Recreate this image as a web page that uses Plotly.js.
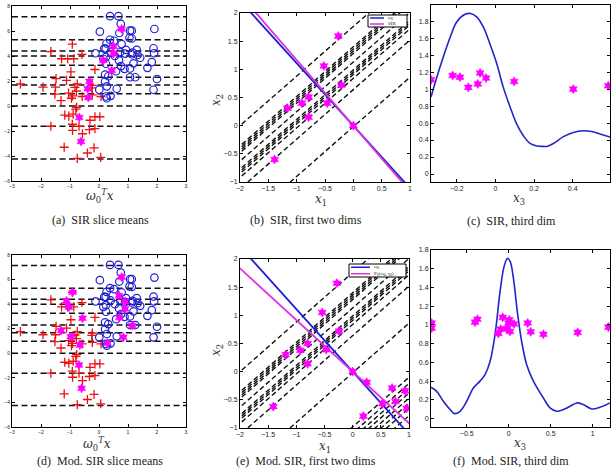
<!DOCTYPE html>
<html><head><meta charset="utf-8">
<script src="https://cdn.plot.ly/plotly-3.0.1.min.js"></script>
<style>body{margin:0;background:#fff}#p{width:613px;height:475px}</style>
</head><body><div id="p"></div>
<script>
// ---------- data ----------
const sliceBounds = [7.15, 5.3, 4.4, 4.0, 3.25, 2.3, 1.68, 0.98, 0.0, -1.62, -4.25];
const crossX = [-0.92,-1.66,-1.29,-1.08,-0.87,-0.59,-0.14,-0.97,-1.48,-1.12,-0.75,-2.71,-1.93,-1.50,-0.83,-0.23,-1.05,-0.91,-1.52,-0.58,-0.23,0.07,-1.31,-0.95,-0.77,-1.18,-1.04,-0.89,-0.14,0.03,-0.31,-0.92,-0.69,-1.66,-0.91,-0.33,-0.14,-0.57,-1.20,-0.17,-0.40,-0.75,0.06,-0.78,-0.80,-0.25];
const crossY = [4.95,4.35,3.78,3.78,3.78,4.13,2.92,2.73,2.19,2.05,1.76,1.76,1.51,1.51,1.49,1.65,1.03,0.81,0.95,0.76,0.89,0.76,0.43,0.62,-0.11,-0.73,-0.81,-0.65,-0.86,-0.86,-1.14,-1.46,-1.62,-1.62,-1.95,-1.89,-1.81,-2.22,-3.30,-3.35,-3.76,-4.19,-4.11,1.2,-0.25,1.45];
const circX = [0.38,0.67,0.75,0.70,1.07,1.13,1.91,0.03,1.13,0.38,0.52,0.78,0.26,0.18,0.23,-0.12,0.40,0.73,0.93,1.16,1.30,1.88,1.90,0.90,1.13,1.33,1.42,0.15,0.24,0.69,0.76,0.88,1.07,1.19,1.82,1.67,0.24,0.21,0.32,2.00,1.07,1.25,0.21,0.01,0.61,1.88,0.24,0.27,0.40,0.59,0.27,0.55,1.05];
const circY = [7.19,7.19,6.57,5.84,6.03,6.03,6.16,5.95,5.40,5.30,5.22,4.95,5.00,4.59,4.59,4.22,4.30,4.30,4.49,4.27,4.49,4.62,4.22,4.19,4.14,4.08,3.86,3.78,3.92,3.65,3.19,2.97,3.00,3.41,3.51,3.05,3.38,2.51,2.38,2.16,2.30,2.30,1.97,1.30,1.38,1.30,0.76,0.62,0.81,2.78,1.57,4.0,5.45];
const aMagX = [0.78,0.50,0.50,0.15,0.44,-0.33,-0.39,-0.37,-0.68,-0.62];
const aMagY = [6.16,4.76,4.19,3.65,2.84,1.97,1.38,0.68,-0.92,-2.84];
const dMagX = [-0.91,-1.12,-1.04,-0.57,-1.31,-0.97,-0.66,-0.69,-0.60,0.78,0.69,0.90,0.90,0.70,1.15,0.84,0.29];
const dMagY = [4.97,4.27,3.75,2.85,1.85,1.36,0.68,-0.95,-2.85,6.2,4.7,4.21,3.61,2.91,2.26,1.30,0.82];

const bMagX = [-0.265,-0.52,-0.21,-0.79,-0.91,-1.16,-0.46,-0.79,-1.39,0.0];
const bMagY = [1.59,1.06,0.72,0.51,0.40,0.31,0.40,0.15,-0.60,0.0];
const eMagX = [-0.28,-0.54,-0.24,-0.80,-0.93,-1.19,-0.47,-0.80,-1.41,0.0,0.25,0.70,0.93,0.19,0.53,0.76,0.96];
const eMagY = [1.57,1.05,0.72,0.50,0.38,0.30,0.39,0.14,-0.62,0.0,-0.19,-0.29,-0.34,-0.79,-0.57,-0.53,-0.65];

const w0Slope = -1.11, sirSlope = -1.165, modSlope = -0.917, cutSlope = 0.88;
const bCuts = [1.76,1.40,1.36,1.32,1.28,1.13,0.99,0.95,0.91,0.84,0.64,-0.02];
const eExtraCuts = [-0.98,-1.09,-1.18,-1.26,-1.35,-1.44,-1.53,-1.66];

const cCurveX = [-0.333,-0.303,-0.269,-0.234,-0.2,-0.157,-0.128,-0.097,-0.062,-0.028,0.007,0.041,0.076,0.110,0.145,0.179,0.214,0.248,0.266,0.3,0.352,0.403,0.455,0.498,0.541,0.593];
const cCurveY = [0.906,1.14,1.38,1.61,1.79,1.88,1.89,1.85,1.73,1.53,1.30,1.02,0.79,0.59,0.45,0.36,0.33,0.325,0.325,0.36,0.44,0.49,0.51,0.50,0.47,0.435];
const cMagX = [-0.333,-0.221,-0.183,-0.14,-0.091,-0.079,-0.048,0.097,0.403,0.584];
const cMagY = [1.11,1.16,1.14,1.02,1.06,1.19,1.13,1.09,1.00,1.04];

const fCurveX = [-0.925,-0.857,-0.778,-0.698,-0.647,-0.579,-0.5,-0.421,-0.341,-0.282,-0.222,-0.163,-0.103,-0.056,-0.016,0.016,0.056,0.103,0.155,0.214,0.294,0.413,0.492,0.571,0.651,0.730,0.81,0.889,0.988,1.087,1.206];
const fCurveY = [0.334,0.29,0.185,0.096,0.053,0.078,0.185,0.327,0.40,0.47,0.61,0.895,1.356,1.62,1.71,1.68,1.50,1.14,0.82,0.575,0.40,0.22,0.114,0.078,0.096,0.131,0.167,0.149,0.103,0.121,0.167];
const fMagX = [-0.917,-0.917,-0.401,-0.373,-0.071,-0.123,-0.095,-0.024,-0.004,0.008,0.016,0.063,0.226,0.262,0.413,0.821,1.187];
const fMagY = [1.02,0.966,1.03,1.06,1.08,0.91,0.955,0.96,1.02,1.055,0.93,1.01,1.02,0.927,0.90,0.92,0.976];

// ---------- styles ----------
const RED='#ee1111', BLUE='#1f1fd6', MAG='#ff00ff', MAGLINE='#dd33dd', CURVE='#2424c8';
const traces = [];
const magMarker = {symbol:'hexagram', size:7, color:MAG, line:{width:0.5, color:MAG}};

function slicePanel(xa, ya, mx, my){
  sliceBounds.forEach(v=>{
    traces.push({x:[-3,3], y:[v,v], xaxis:xa, yaxis:ya, mode:'lines', showlegend:false,
      line:{color:'#111', width:1.5, dash:'6px,3.5px'}, hoverinfo:'skip'});
  });
  traces.push({x:crossX, y:crossY, xaxis:xa, yaxis:ya, mode:'markers', showlegend:false,
    marker:{symbol:'cross-thin-open', size:6.5, color:RED, line:{color:RED, width:1.3}}});
  traces.push({x:circX, y:circY, xaxis:xa, yaxis:ya, mode:'markers', showlegend:false,
    marker:{symbol:'circle-open', size:7.5, color:BLUE, line:{color:BLUE, width:1.2}}});
  traces.push({x:mx, y:my, xaxis:xa, yaxis:ya, mode:'markers', showlegend:false, marker:magMarker});
}
slicePanel('x','y',aMagX,aMagY);
slicePanel('x4','y4',dMagX,dMagY);

function linePanel(xa, ya, cuts, mx, my, slope2){
  const xs=[-2.5,1.5];
  cuts.forEach(c=>{
    traces.push({x:xs, y:xs.map(v=>cutSlope*v+c), xaxis:xa, yaxis:ya, mode:'lines', showlegend:false,
      line:{color:'#111', width:1.4, dash:'5px,3px'}, hoverinfo:'skip'});
  });
  traces.push({x:xs, y:xs.map(v=>w0Slope*v), xaxis:xa, yaxis:ya, mode:'lines', showlegend:false,
    line:{color:BLUE, width:1.8}});
  traces.push({x:xs, y:xs.map(v=>slope2*v), xaxis:xa, yaxis:ya, mode:'lines', showlegend:false,
    line:{color:MAGLINE, width:1.8}});
  traces.push({x:mx, y:my, xaxis:xa, yaxis:ya, mode:'markers', showlegend:false, marker:magMarker});
}
linePanel('x2','y2',bCuts,bMagX,bMagY,sirSlope);
linePanel('x5','y5',bCuts.concat(eExtraCuts),eMagX,eMagY,modSlope);

function curvePanel(xa, ya, cx, cy, mx, my){
  traces.push({x:cx, y:cy, xaxis:xa, yaxis:ya, mode:'lines', showlegend:false,
    line:{color:CURVE, width:1.6, shape:'spline', smoothing:1}});
  traces.push({x:mx, y:my, xaxis:xa, yaxis:ya, mode:'markers', showlegend:false, marker:magMarker});
}
curvePanel('x3','y3',cCurveX,cCurveY,cMagX,cMagY);
curvePanel('x6','y6',fCurveX,fCurveY,fMagX,fMagY);

// ---------- layout ----------
const W=613, H=475;
const px = v=>v/W, py = v=>1-v/H;
function ax(d0,d1,range,extra,anchor,fs){
  return Object.assign({domain:[d0,d1], range:range, anchor:anchor, showgrid:false, zeroline:false,
    showline:true, linecolor:'#000', linewidth:1, mirror:'ticks', ticks:'inside', ticklen:3,
    tickcolor:'#000', tickfont:{family:'Liberation Sans, Arial', size:fs, color:'#222'}, fixedrange:true}, extra);
}
const layout = {
  width:W, height:H, margin:{l:0,r:0,t:0,b:0}, paper_bgcolor:'#fff', plot_bgcolor:'#fff', showlegend:false,
  xaxis: ax(px(12),px(186),[-3,3],{dtick:1},'y',5),
  yaxis: ax(py(181),py(6),[-6,8],{dtick:2},'x',5),
  xaxis4: ax(px(12),px(186),[-3,3],{dtick:1},'y4',5),
  yaxis4: ax(py(427),py(255),[-6,8],{dtick:2},'x4',5),
  xaxis2: ax(px(240),px(410),[-2,1],{dtick:0.5},'y2',7),
  yaxis2: ax(py(182),py(13),[-1,2],{dtick:0.5},'x2',7),
  xaxis5: ax(px(240),px(409),[-2,1],{dtick:0.5},'y5',7),
  yaxis5: ax(py(428),py(259),[-1,2],{dtick:0.5},'x5',7),
  xaxis3: ax(px(431),px(610),[-0.333,0.593],{tickvals:[-0.2,0,0.2,0.4]},'y3',7),
  yaxis3: ax(py(182),py(5),[-0.094,1.99],{dtick:0.2, tick0:0},'x3',7),
  xaxis6: ax(px(431),px(610),[-0.925,1.206],{tickvals:[-0.5,0,0.5,1]},'y6',7),
  yaxis6: ax(py(427),py(250),[-0.09,1.8],{dtick:0.2, tick0:0},'x6',7),
  annotations: [], shapes: []
};
const cap = {family:'Liberation Serif, Times New Roman', size:12, color:'#222'};
const mathF = {family:'DejaVu Serif, Liberation Serif', size:12, color:'#333'};
function ann(x,y,text,font,rot,anchor){
  layout.annotations.push({xref:'paper', yref:'paper', x:px(x), y:py(y), text:text, showarrow:false,
    xanchor:anchor||'center', yanchor:'middle', font:font, textangle:rot||0});
}
ann(100,220,'(a)  SIR slice means',cap);
ann(306,220,'(b)  SIR, first two dims',cap);
ann(511,221,'(c)  SIR, third dim',cap);
ann(100,461,'(d)  Mod. SIR slice means',cap);
ann(306,461,'(e)  Mod. SIR, first two dims',cap);
ann(511,461,'(f)  Mod. SIR, third dim',cap);
const omT = '<i>ω</i><sub>0</sub><sup><i>T</i></sup><i>x</i>';
ann(100,196,omT,mathF);
ann(97,444,omT,mathF);
ann(321,200,'<i>x</i><sub>1</sub>',mathF);
ann(325,447,'<i>x</i><sub>1</sub>',mathF);
ann(217,100,'<i>x</i><sub>2</sub>',mathF,-90);
ann(217,350,'<i>x</i><sub>2</sub>',mathF,-90);
ann(519,199,'<i>x</i><sub>3</sub>',mathF);
ann(520,444,'<i>x</i><sub>3</sub>',mathF);

// manual legends
const legF = {family:'Liberation Serif', size:5, color:'#222'};
function legend(x0,y0,x1,y1,lineEnd,labels){
  layout.shapes.push({type:'rect', xref:'paper', yref:'paper', x0:px(x0), x1:px(x1), y0:py(y0), y1:py(y1),
    fillcolor:'#fff', line:{color:'#000', width:1}});
  const rows = labels.length, h=(y1-y0)/rows;
  labels.forEach((l,i)=>{
    const yy = y0 + h*(i+0.5);
    layout.shapes.push({type:'line', xref:'paper', yref:'paper', x0:px(x0+2), x1:px(lineEnd), y0:py(yy), y1:py(yy),
      line:{color:l[1], width:1.5}});
    ann(lineEnd+2, yy, l[0], legF, 0, 'left');
  });
}
legend(368,15,407,27,384,[['ω<sub>0</sub>',BLUE],['SIR',MAGLINE]]);
legend(349,264,406,277,370,[['ω<sub>0</sub>',BLUE],['P<sub>S</sub>(ω<sub>0</sub>, γ<sub>0</sub>)',MAGLINE]]);

Plotly.newPlot('p', traces, layout, {displayModeBar:false, staticPlot:true});
</script></body></html>
